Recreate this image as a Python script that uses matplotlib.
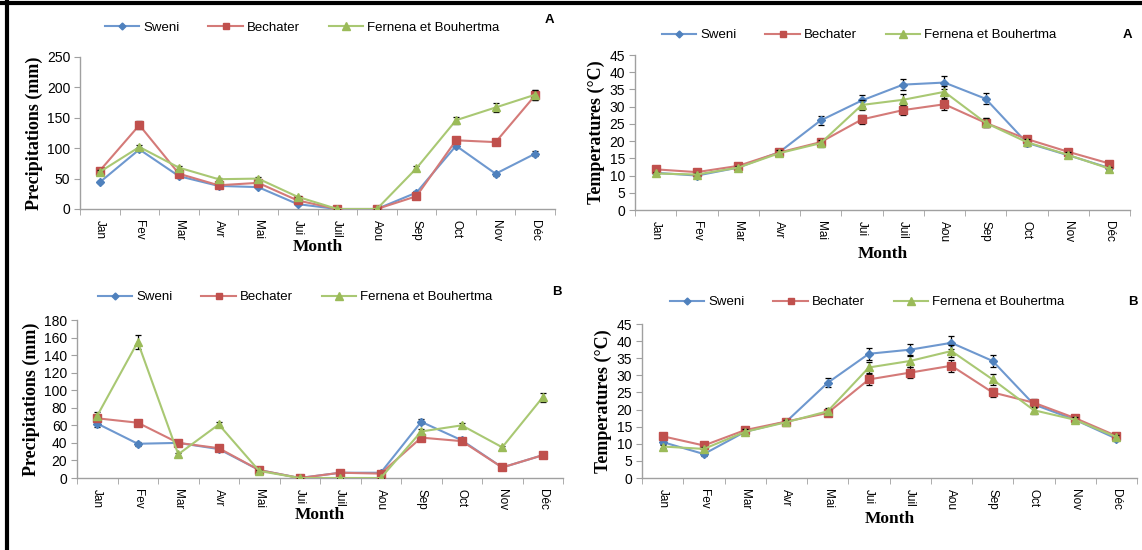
import numpy as np
import matplotlib
matplotlib.use('Agg')
import matplotlib.pyplot as plt
from matplotlib.lines import Line2D

# ---------------------------------------------------------------------------
# Data
# ---------------------------------------------------------------------------
months = ['Jan', 'Fev', 'Mar', 'Avr', 'Mai', 'Jui', 'Juil', 'Aou', 'Sep', 'Oct', 'Nov', 'Déc']
stations = ['Sweni', 'Bechater', 'Fernena et Bouhertma']

# panel A - precipitation (mm)
precip_a_sweni = [44, 98, 54, 38, 36, 8, 0, 0, 27, 104, 58, 91]
precip_a_bech = [63, 138, 58, 39, 43, 14, 0, 0, 21, 113, 110, 187]
precip_a_fern = [61, 102, 68, 49, 50, 20, 0, 0, 67, 146, 167, 188]
precip_a_err_sweni = [2, 3, 2, 2, 2, 1, 0, 0, 2, 4, 3, 4]
precip_a_err_bech = [3, 6, 3, 2, 2, 1, 0, 0, 2, 5, 5, 8]
precip_a_err_fern = [3, 4, 3, 2, 3, 1, 0, 0, 3, 6, 8, 8]

# panel A - temperature (°C)
temp_a_sweni = [10.8, 10.0, 12.3, 16.8, 26.0, 31.8, 36.4, 37.0, 32.3, 19.5, 15.9, 12.2]
temp_a_bech = [11.8, 11.0, 12.8, 16.7, 19.7, 26.3, 29.0, 30.7, 25.3, 20.6, 16.9, 13.5]
temp_a_fern = [10.6, 10.3, 12.3, 16.5, 19.4, 30.5, 32.0, 34.3, 25.3, 19.7, 16.0, 12.0]
temp_a_err_sweni = [0.5, 0.5, 0.6, 0.7, 1.3, 1.5, 1.7, 1.8, 1.6, 1.0, 0.8, 0.6]
temp_a_err_bech = [0.6, 0.5, 0.6, 0.8, 1.0, 1.3, 1.5, 1.6, 1.3, 1.0, 0.8, 0.7]
temp_a_err_fern = [0.5, 0.5, 0.6, 0.8, 1.0, 1.5, 1.6, 1.7, 1.3, 1.0, 0.8, 0.6]

# panel B - precipitation (mm)
precip_b_sweni = [62, 39, 40, 33, 9, 0, 6, 6, 64, 43, 12, 26]
precip_b_bech = [68, 63, 40, 34, 9, 0, 6, 5, 46, 42, 12, 26]
precip_b_fern = [71, 155, 27, 61, 8, 0, 0, 0, 53, 60, 35, 92]
precip_b_err_sweni = [4, 2, 2, 2, 1, 0, 1, 1, 3, 2, 1, 2]
precip_b_err_bech = [3, 3, 2, 2, 1, 0, 1, 1, 3, 2, 1, 2]
precip_b_err_fern = [4, 8, 2, 3, 1, 0, 0, 0, 3, 3, 2, 5]

# panel B - temperature (°C)
temp_b_sweni = [10.5, 7.0, 13.5, 16.5, 27.8, 36.3, 37.5, 39.5, 34.2, 21.5, 17.0, 11.5]
temp_b_bech = [12.2, 9.5, 14.0, 16.5, 19.0, 28.8, 30.8, 32.8, 25.0, 22.0, 17.5, 12.3]
temp_b_fern = [9.2, 8.5, 13.5, 16.3, 19.5, 32.3, 34.2, 37.1, 28.8, 19.8, 17.0, 12.0]
temp_b_err_sweni = [0.6, 0.6, 0.7, 0.7, 1.3, 1.7, 1.8, 1.9, 1.7, 1.0, 0.8, 0.6]
temp_b_err_bech = [0.6, 0.6, 0.7, 0.7, 1.0, 1.5, 1.6, 1.7, 1.4, 1.0, 0.8, 0.6]
temp_b_err_fern = [0.5, 0.6, 0.7, 0.7, 1.0, 1.6, 1.7, 1.8, 1.5, 1.0, 0.8, 0.6]

# ---------------------------------------------------------------------------
# Styling
# ---------------------------------------------------------------------------
marker_colors = ['#4F81BD', '#C0504D', '#9BBB59']
line_colors = ['#6E98CF', '#D47A78', '#A9C873']
markers = ['D', 's', '^']
marker_sizes = [4, 5.5, 6]
SANS = 'Liberation Sans'
SERIF = 'Liberation Serif'

W, H = 1142, 550
fig = plt.figure(figsize=(W / 100, H / 100), dpi=100)


def px_axes(x0, x1, y0, y1):
    """axes from pixel box (top-left origin)"""
    return fig.add_axes([x0 / W, 1 - y1 / H, (x1 - x0) / W, (y1 - y0) / H])


def draw_panel(ax, series, errors, ylim, ystep, ylabel, leg_xy, letter_xy, letter,
               xlabel_y):
    x = np.arange(len(months))
    for i, (vals, err) in enumerate(zip(series, errors)):
        ax.errorbar(x, vals, yerr=err, color=line_colors[i], lw=1.5,
                    marker=markers[i], ms=marker_sizes[i],
                    mfc=marker_colors[i], mec=marker_colors[i],
                    ecolor='black', elinewidth=0.9, capsize=2.5, capthick=0.9,
                    zorder=3 + i)
    ax.set_xlim(-0.5, len(months) - 0.5)
    ax.set_ylim(*ylim)
    ax.set_yticks(np.arange(ylim[0], ylim[1] + 0.1, ystep))
    ax.set_xticks(x)
    ax.set_xticklabels(months, rotation=-90, fontsize=8.5, family=SANS)
    ax.set_xticks(np.arange(-0.5, len(months)), minor=True)
    ax.tick_params(axis='x', which='major', length=0, pad=8)
    ax.tick_params(axis='x', which='minor', length=4, color='#A0A0A0', direction='out')
    ax.tick_params(axis='y', length=4, color='#A0A0A0', labelsize=10, pad=3)
    for lab in ax.get_yticklabels():
        lab.set_family(SANS)
    for s in ['top', 'right']:
        ax.spines[s].set_visible(False)
    for s in ['left', 'bottom']:
        ax.spines[s].set_color('#A0A0A0')
        ax.spines[s].set_linewidth(1.0)
    ax.set_ylabel(ylabel, family=SERIF, fontweight='bold', fontsize=13, labelpad=3)
    # Month label placed in figure coords
    bb = ax.get_position()
    fig.text(bb.x0 + bb.width * 0.5, 1 - xlabel_y / H, 'Month', family=SERIF,
             fontweight='bold', fontsize=12.5, ha='center', va='center')

    handles = [Line2D([], [], color=line_colors[i], lw=1.5, marker=markers[i],
                      ms=marker_sizes[i] - 0.5, mfc=marker_colors[i], mec=marker_colors[i])
               for i in range(3)]
    fig.legend(handles, stations, loc='center',
               bbox_to_anchor=(leg_xy[0] / W, 1 - leg_xy[1] / H),
               ncol=3, frameon=False, prop={'family': SANS, 'size': 9.5},
               handlelength=2.6, columnspacing=2.2, handletextpad=0.3)
    fig.text(letter_xy[0] / W, 1 - letter_xy[1] / H, letter, family=SANS,
             fontweight='bold', fontsize=9.5, ha='center', va='center')


ax1 = px_axes(80, 555, 57, 209)
draw_panel(ax1, [precip_a_sweni, precip_a_bech, precip_a_fern],
           [precip_a_err_sweni, precip_a_err_bech, precip_a_err_fern],
           (0, 250), 50, 'Precipitations (mm)', (302, 28), (549, 20), 'A', 247)

ax2 = px_axes(635, 1130, 55, 210)
draw_panel(ax2, [temp_a_sweni, temp_a_bech, temp_a_fern],
           [temp_a_err_sweni, temp_a_err_bech, temp_a_err_fern],
           (0, 45), 5, 'Temperatures (°C)', (859, 35), (1127, 35), 'A', 254)

ax3 = px_axes(77, 563, 320, 478)
draw_panel(ax3, [precip_b_sweni, precip_b_bech, precip_b_fern],
           [precip_b_err_sweni, precip_b_err_bech, precip_b_err_fern],
           (0, 180), 20, 'Precipitations (mm)', (295, 297), (557, 292), 'B', 515)

ax4 = px_axes(642, 1137, 324, 478)
draw_panel(ax4, [temp_b_sweni, temp_b_bech, temp_b_fern],
           [temp_b_err_sweni, temp_b_err_bech, temp_b_err_fern],
           (0, 45), 5, 'Temperatures (°C)', (867, 302), (1133, 302), 'B', 519)

# frame lines at top and left edge of the image
fig.add_artist(Line2D([0, 1], [1 - 3 / H, 1 - 3 / H], color='black', lw=3,
                      transform=fig.transFigure))
fig.add_artist(Line2D([7 / W, 7 / W], [0, 1], color='black', lw=3,
                      transform=fig.transFigure))

fig.savefig('out.png', dpi=100)
